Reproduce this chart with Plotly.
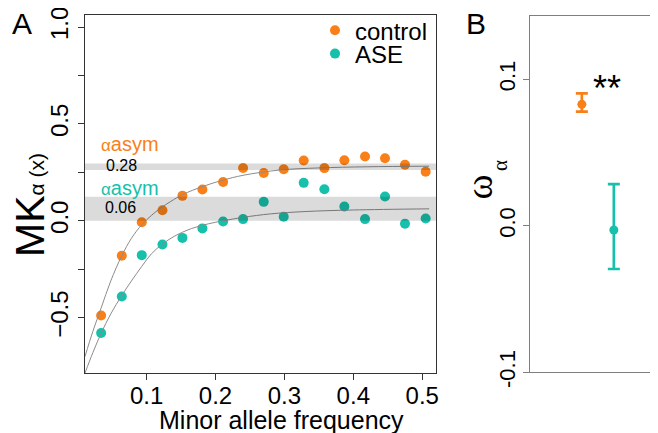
import plotly.graph_objects as go

# --- panel A: MK alpha by minor allele frequency bin ---
maf = [0.034, 0.064, 0.093, 0.123, 0.152, 0.181, 0.211, 0.240, 0.270,
       0.299, 0.328, 0.358, 0.387, 0.417, 0.446, 0.475, 0.505]
mk_control = [-0.488, -0.180, -0.007, 0.055, 0.129, 0.162, 0.200, 0.273, 0.247,
              0.266, 0.311, 0.272, 0.313, 0.332, 0.323, 0.289, 0.253]
mk_ase = [-0.579, -0.390, -0.177, -0.122, -0.088, -0.039, -0.003, 0.009, 0.098,
          0.021, 0.196, 0.163, 0.074, 0.009, 0.126, -0.015, 0.012]

# fitted curves
fit_x_control = [0.0106, 0.022, 0.034, 0.048, 0.064, 0.078, 0.093, 0.107, 0.12,
                 0.135, 0.152, 0.182, 0.211, 0.24, 0.293, 0.35, 0.42, 0.51]
fit_y_control = [-0.70, -0.57, -0.45, -0.31, -0.18, -0.09, -0.02, 0.028, 0.065,
                 0.10, 0.135, 0.178, 0.21, 0.235, 0.262, 0.273, 0.279, 0.282]
fit_x_ase = [0.0106, 0.022, 0.034, 0.048, 0.064, 0.078, 0.093, 0.107, 0.123,
             0.14, 0.165, 0.19, 0.211, 0.24, 0.28, 0.33, 0.4, 0.51]
fit_y_ase = [-0.785, -0.68, -0.58, -0.48, -0.385, -0.31, -0.235, -0.17, -0.12,
             -0.08, -0.04, -0.015, 0.0, 0.018, 0.036, 0.048, 0.056, 0.062]

# asymptotic alpha confidence bands
band_control = [0.262, 0.296]
band_ase = [0.0, 0.124]
alpha_asym = ["0.28", "0.06"]

# --- panel B: omega alpha ---
groups = [1, 2]
omega = [0.0829, -0.0029]
omega_hi = [0.0904, 0.0285]
omega_lo = [0.0779, -0.0295]

ORANGE = "#F98019"
TEAL = "#17C0AA"
FONT = "Liberation Sans"

# the page body has an 8px margin, so the figure is drawn 8px in from the corner
OFF = 8
W, H = 658 - OFF, 433 - OFF


def px(x):
    return (x - OFF) / W


def py(y):
    return 1 - (y - OFF) / H


fig = go.Figure()

fig.add_trace(go.Scatter(x=maf, y=mk_control, mode="markers", name="control",
                         marker=dict(color=ORANGE, size=10), xaxis="x", yaxis="y",
                         legend="legend"))
fig.add_trace(go.Scatter(x=maf, y=mk_ase, mode="markers", name="ASE",
                         marker=dict(color=TEAL, size=10), xaxis="x", yaxis="y",
                         legend="legend2"))
fig.add_trace(go.Scatter(x=fit_x_control, y=fit_y_control, mode="lines", showlegend=False,
                         line=dict(color="#8c8c8c", width=1, shape="spline"), xaxis="x", yaxis="y"))
fig.add_trace(go.Scatter(x=fit_x_ase, y=fit_y_ase, mode="lines", showlegend=False,
                         line=dict(color="#8c8c8c", width=1, shape="spline"), xaxis="x", yaxis="y"))

cols = [ORANGE, TEAL]
for i in range(2):
    fig.add_trace(go.Scatter(
        x=[groups[i]], y=[omega[i]], mode="markers", showlegend=False,
        marker=dict(color=cols[i], size=9),
        error_y=dict(type="data", symmetric=False,
                     array=[omega_hi[i] - omega[i]], arrayminus=[omega[i] - omega_lo[i]],
                     color=cols[i], thickness=2.7, width=6),
        xaxis="x2", yaxis="y2"))

# gray bands drawn over the points (darken them like the original)
for b in (band_control, band_ase):
    fig.add_shape(type="rect", xref="x domain", yref="y", x0=0, x1=1, y0=b[0], y1=b[1],
                  fillcolor="rgba(0,0,0,0.14)", line=dict(width=0), layer="above")

asym_txt = "<span style='font-size:17px'>α</span>asym"
ann = [
    dict(x=0.031, y=0.395, xref="x", yref="y", xanchor="left",
         text=asym_txt, font=dict(size=20, color=ORANGE)),
    dict(x=0.038, y=0.285, xref="x", yref="y", xanchor="left",
         text=alpha_asym[0], font=dict(size=16, color="black")),
    dict(x=0.031, y=0.169, xref="x", yref="y", xanchor="left",
         text=asym_txt, font=dict(size=20, color=TEAL)),
    dict(x=0.036, y=0.069, xref="x", yref="y", xanchor="left",
         text=alpha_asym[1], font=dict(size=16, color="black")),
    dict(x=1.775, y=0.0977, xref="x2", yref="y2", text="**", yshift=-6,
         font=dict(size=36, color="black")),
    dict(x=px(22.5), y=py(24), text="A", font=dict(size=30, color="black")),
    dict(x=px(476), y=py(24), text="B", font=dict(size=30, color="black")),
    dict(x=px(30), y=py(205), textangle=-90,
         text="MK<span style='font-size:21px'>α (x)</span>", font=dict(size=41, color="black")),
    # omega with its alpha subscript, set as two pieces
    dict(x=px(478), y=py(187.5), textangle=-90,
         text="ω", font=dict(size=38, color="black", family="Liberation Serif")),
    dict(x=px(500), y=py(166), textangle=-90,
         text="α", font=dict(size=21, color="black", family="Liberation Serif")),
    dict(x=px(281), y=py(420), text="Minor allele frequency", font=dict(size=25, color="black")),
]
for a in ann:
    a.setdefault("showarrow", False)
    a.setdefault("xref", "paper")
    a.setdefault("yref", "paper")
    a.setdefault("xanchor", "center")
    a.setdefault("yanchor", "middle")
    fig.add_annotation(**a)

leg = dict(xanchor="left", yanchor="top", bgcolor="rgba(0,0,0,0)", font=dict(size=24),
           itemwidth=30, borderwidth=0)

fig.update_layout(
    width=W, height=H, margin=dict(l=0, r=0, t=0, b=0, autoexpand=False),
    paper_bgcolor="white", plot_bgcolor="white",
    font=dict(family=FONT, color="black"),
    showlegend=True,
    legend=dict(leg, x=px(315), y=py(8.2)),
    legend2=dict(leg, x=px(315), y=py(31.5)),
    xaxis=dict(domain=[px(85), px(436)], range=[0.0106, 0.52], anchor="y", automargin=False,
               tickvals=[0.1, 0.2, 0.3, 0.4, 0.5], ticktext=["0.1", "0.2", "0.3", "0.4", "0.5"],
               ticks="outside", ticklen=6, tickcolor="#333", showline=True, linecolor="#333",
               mirror=True, showgrid=False, zeroline=False, tickfont=dict(size=24),
               ticklabelstandoff=-5, ticklabeloverflow="allow"),
    yaxis=dict(domain=[py(373), py(15)], range=[-0.785, 1.062], anchor="x", automargin=False,
               tickvals=[-0.5, -0.25, 0, 0.25, 0.5, 0.75, 1.0],
               ticktext=["−0.5", "", "0.0", "", "0.5", "", "1.0"], tickangle=-90,
               ticks="outside", ticklen=6, tickcolor="#333", showline=True, linecolor="#333",
               mirror=True, showgrid=False, zeroline=False, tickfont=dict(size=24),
               ticklabelstandoff=0, ticklabeloverflow="allow"),
    xaxis2=dict(domain=[px(530), 1.0], range=[-0.62, 3.38], anchor="y2", automargin=False,
                showticklabels=False, ticks="", showline=True, linecolor="#7f7f7f",
                mirror=True, showgrid=False, zeroline=False),
    yaxis2=dict(domain=[py(372.3), py(15.7)], range=[-0.1, 0.1434], anchor="x2",
                automargin=False,
                tickvals=[-0.1, 0, 0.1], ticktext=["-0.1", "0.0", "0.1"], tickangle=-90,
                ticks="outside", ticklen=6, tickcolor="#7f7f7f", showline=True,
                linecolor="#7f7f7f", showgrid=False, zeroline=False, tickfont=dict(size=22),
                ticklabelstandoff=-1, ticklabeloverflow="allow"),
)

fig.write_html("out.html")
